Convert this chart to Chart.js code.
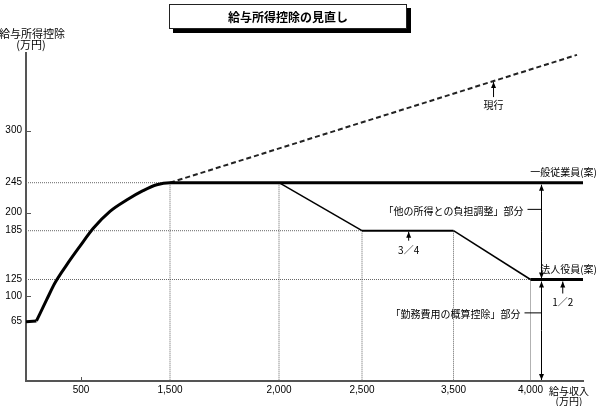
<!DOCTYPE html>
<html lang="ja">
<head>
<meta charset="utf-8">
<title>給与所得控除の見直し</title>
<script src="https://cdn.jsdelivr.net/npm/chart.js@4.4.0/dist/chart.umd.min.js"></script>
<style>
  html, body { margin: 0; padding: 0; background: #fff; }
  #wrap { position: relative; width: 600px; height: 406px; }
  #title-box {
    position: absolute; left: 169px; top: 4px; width: 236px; height: 23px;
    border: 1px solid #222; box-shadow: 4px 4px 0 #000; background: #fff;
    font: bold 12px 'Noto Sans CJK JP', sans-serif; line-height: 23px; text-align: center;
  }
</style>
</head>
<body>
<div id="wrap">
  <canvas id="chart" width="600" height="406"></canvas>
  <div id="title-box">給与所得控除の見直し</div>
</div>
<script>
// 一般従業員(案): 給与収入 (万円) -> 控除額 (万円)
const generalIncome = [0, 95, 188, 264, 370, 491, 638, 826, 1013, 1197, 1351, 1500, 4350];
const generalDeduction = [65, 66, 95, 120, 143, 166, 187, 202, 219, 233, 242, 245, 245];

// 法人役員(案)
const officerIncome = [2000, 2500, 3500, 4000, 4350];
const officerDeduction = [245, 185, 185, 125, 125];

// 現行
const currentIncome = [1500, 4310];
const currentDeduction = [245, 381];

// dotted guide lines dropped from the kinks
const guideIncome = [1500, 2000, 2500, 3500, 4000];
const guideDeduction = [245, 245, 185, 185, 125];

const xTickValues = [500, 1500, 2000, 2500, 3500, 4000];
const yTickValues = [65, 100, 125, 185, 200, 245, 300];
const xMarkValues = [500];
const yMarkValues = [100, 200, 300];

// the printed axes are schematic (not linear): where each value sits along the axis
const scaleBreaks = {
  x: toFractions([[0, 26], [500, 81], [1500, 170], [2000, 279], [2500, 362], [3500, 453.5], [4000, 530.5], [4350, 583]], 26, 583),
  y: toFractions([[0, 381], [65, 321.7], [100, 296], [125, 279.5], [185, 230.7], [200, 212.7], [245, 182.7], [300, 130.5], [383, 53]], 381, 53)
};

function toFractions(pairs, start, end) {
  return pairs.map(p => [p[0], (p[1] - start) / (end - start)]);
}

function interp(pairs, v, from, to) {
  for (let i = 1; i < pairs.length; i++) {
    const a = pairs[i - 1], b = pairs[i];
    if (v <= b[from] || i === pairs.length - 1) {
      const t = (v - a[from]) / (b[from] - a[from]);
      return a[to] + t * (b[to] - a[to]);
    }
  }
}

class SchematicScale extends Chart.LinearScale {
  getPixelForValue(value) {
    if (value === null || isNaN(value)) return NaN;
    return this.getPixelForDecimal(interp(scaleBreaks[this.axis], value, 0, 1));
  }
  getValueForPixel(pixel) {
    return interp(scaleBreaks[this.axis], this.getDecimalForPixel(pixel), 1, 0);
  }
}
SchematicScale.id = 'schematic';
SchematicScale.defaults = Chart.LinearScale.defaults;
Chart.register(SchematicScale);

const pts = (xs, ys) => xs.map((v, i) => ({ x: v, y: ys[i] }));

const FONT = "'Noto Sans CJK JP', sans-serif";
const NUM_FONT = "'Liberation Sans', Arial, sans-serif";

// build guide datasets
const guides = [];
const seenLevels = new Set();
guideIncome.forEach((inc, i) => {
  const d = guideDeduction[i];
  guides.push([{ x: inc, y: d }, { x: inc, y: 0 }]);
  if (!seenLevels.has(d)) {
    seenLevels.add(d);
    guides.push([{ x: 0, y: d }, { x: inc, y: d }]);
  }
});

const generalPts = pts(generalIncome, generalDeduction);
const datasets = [
  { label: '一般従業員(案)', data: generalPts.slice(0, 2), borderColor: '#000', borderWidth: 3, tension: 0 },
  { label: '一般従業員(案)', data: generalPts.slice(1), borderColor: '#000', borderWidth: 3, cubicInterpolationMode: 'monotone' },
  {
    label: '法人役員(案)', data: pts(officerIncome, officerDeduction), borderColor: '#000', borderWidth: 2,
    segment: { borderWidth: ctx => ctx.p0DataIndex === 3 ? 3 : (ctx.p0DataIndex === 1 ? 2 : 1.5) }
  },
  { label: '現行', data: pts(currentIncome, currentDeduction), borderColor: '#222', borderWidth: 2, borderDash: [5, 3] }
];
guides.forEach(g => datasets.push({ label: 'guide', data: g, borderColor: '#666', borderWidth: 1, borderDash: [1, 1] }));
const currentIndex = 3;

function arrow(ctx, px, fromY, toY) {
  const dir = toY < fromY ? -1 : 1;
  ctx.beginPath();
  ctx.moveTo(px, fromY);
  ctx.lineTo(px, toY);
  ctx.stroke();
  ctx.beginPath();
  ctx.moveTo(px, toY);
  ctx.lineTo(px - 2.5, toY - dir * 6);
  ctx.lineTo(px + 2.5, toY - dir * 6);
  ctx.closePath();
  ctx.fill();
}

const annotate = {
  id: 'annotate',
  afterDatasetsDraw(chart) {
    const { ctx, scales: { x, y } } = chart;
    ctx.save();
    ctx.textBaseline = 'middle';

    // small inward tick marks
    ctx.strokeStyle = '#555';
    ctx.lineWidth = 1;
    ctx.beginPath();
    yMarkValues.forEach(v => {
      const py = Math.round(y.getPixelForValue(v)) + 0.5;
      ctx.moveTo(x.left, py); ctx.lineTo(x.left + 5, py);
    });
    xMarkValues.forEach(v => {
      const px = Math.round(x.getPixelForValue(v)) + 0.5;
      ctx.moveTo(px, y.bottom); ctx.lineTo(px, y.bottom - 4);
    });
    ctx.stroke();

    ctx.fillStyle = '#000';
    ctx.strokeStyle = '#000';

    // axis titles
    ctx.textAlign = 'center';
    ctx.font = `11px ${FONT}`;
    ctx.fillText('給与所得控除', 32, 34);
    ctx.fillText('(万円)', 31, 45);
    ctx.font = `10px ${FONT}`;
    ctx.fillText('給与収入', 569, 391);
    ctx.fillText('(万円)', 569, 401);

    // line labels
    ctx.textAlign = 'right';
    ctx.fillText('一般従業員(案)', 597, y.getPixelForValue(245) - 10);
    ctx.fillText('法人役員(案)', 597, y.getPixelForValue(125) - 10);

    // double arrows for the two parts
    const xa = Math.round(x.getPixelForValue(4070)) + 0.5;
    const y245 = y.getPixelForValue(245), y125 = y.getPixelForValue(125), y0 = y.getPixelForValue(0);
    ctx.lineWidth = 1;
    arrow(ctx, xa, (y245 + y125) / 2, y245 + 2);
    arrow(ctx, xa, (y245 + y125) / 2, y125 - 1);
    arrow(ctx, xa, (y125 + y0) / 2, y125 + 2);
    arrow(ctx, xa, (y125 + y0) / 2, y0 - 1);

    const yA = y.getPixelForValue(205), yB = y.getPixelForValue(77);
    ctx.beginPath();
    ctx.moveTo(xa - 14, yA); ctx.lineTo(xa, yA);
    ctx.moveTo(xa - 17, yB); ctx.lineTo(xa, yB);
    ctx.stroke();
    ctx.fillText('「他の所得との負担調整」部分', xa - 18, yA + 2);
    ctx.fillText('「勤務費用の概算控除」部分', xa - 21, yB + 1);

    // 現行 pointer
    ctx.textAlign = 'center';
    const pts0 = chart.getDatasetMeta(currentIndex).data;
    const ax = x.getPixelForValue(3760);
    const t = (ax - pts0[0].x) / (pts0[1].x - pts0[0].x);
    const tipY = pts0[0].y + t * (pts0[1].y - pts0[0].y);
    arrow(ctx, ax, tipY + 16, tipY + 1);
    ctx.fillText('現行', ax, tipY + 24);

    // ratio pointers
    const bx = x.getPixelForValue(3010), by = y.getPixelForValue(185);
    arrow(ctx, bx, by + 10, by + 1);
    ctx.fillText('3／4', bx, by + 20);
    const cx = x.getPixelForValue(4215);
    arrow(ctx, cx, y125 + 14, y125 + 2);
    ctx.fillText('1／2', cx, y125 + 23);

    ctx.restore();
  }
};

const axisBase = {
  type: 'schematic',
  grid: { display: false, drawTicks: false, tickLength: 0 },
  border: { display: true, color: '#555', width: 2 },
  ticks: {
    autoSkip: false, maxRotation: 0, color: '#000',
    font: { family: NUM_FONT, size: 10 },
    callback: v => v.toLocaleString('en-US')
  }
};

new Chart(document.getElementById('chart'), {
  type: 'line',
  data: { datasets },
  options: {
    responsive: false,
    animation: false,
    layout: { padding: { top: 53, right: 17, bottom: 0, left: 0 } },
    elements: { point: { radius: 0 } },
    plugins: { legend: { display: false }, tooltip: { enabled: false } },
    scales: {
      x: {
        ...axisBase, min: 0, max: 4350,
        ticks: { ...axisBase.ticks, padding: 3 },
        afterBuildTicks: s => { s.ticks = xTickValues.map(v => ({ value: v })); },
        afterFit: s => { s.height = 25; }
      },
      y: {
        ...axisBase, min: 0, max: 383,
        ticks: { ...axisBase.ticks, padding: 4 },
        afterBuildTicks: s => { s.ticks = yTickValues.map(v => ({ value: v })); },
        afterFit: s => { s.width = 26; }
      }
    }
  },
  plugins: [annotate]
});
</script>
</body>
</html>
